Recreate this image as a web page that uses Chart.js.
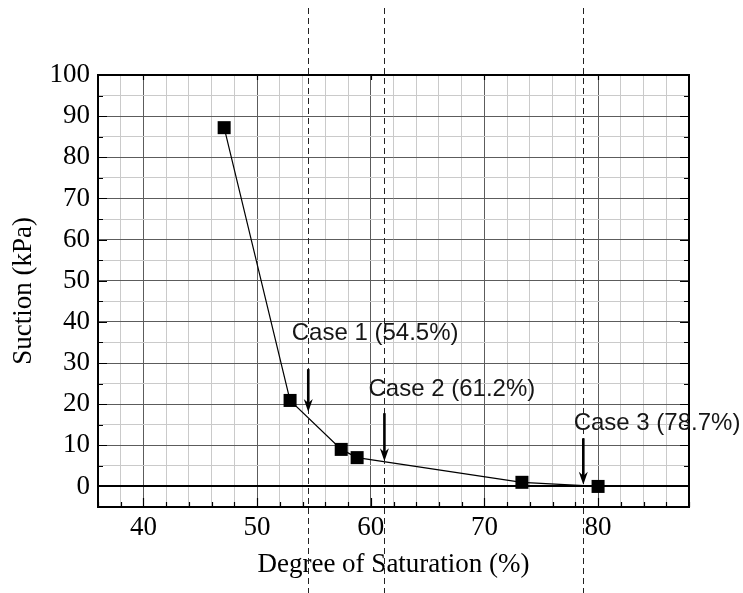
<!DOCTYPE html>
<html>
<head>
<meta charset="utf-8">
<script src="https://cdn.jsdelivr.net/npm/chart.js@4/dist/chart.umd.min.js"></script>
<style>
  html, body { margin: 0; padding: 0; background: #ffffff; }
  #wrap { width: 743px; height: 593px; }
</style>
</head>
<body>
<div id="wrap"><canvas id="c" width="743" height="593"></canvas></div>
<script>
// Soil-water characteristic points: degree of saturation (%) vs suction (kPa)
const saturation = [47.1, 52.9, 57.4, 58.8, 73.3, 80.0];
const suction    = [87.2, 20.9, 9.0, 7.0, 1.0, 0.0];

// Axis tick labels
const xTickLabels = [40, 50, 60, 70, 80];
const yTickLabels = [0, 10, 20, 30, 40, 50, 60, 70, 80, 90, 100];

// Test cases marked on the curve
const caseNames      = ['Case 1 (54.5%)', 'Case 2 (61.2%)', 'Case 3 (78.7%)'];
const caseSaturation = [54.5, 61.2, 78.7];

// Where each callout sits, in axis units
const calloutPlacement = [
  { textX: 53.05, textY: 35.7, arrowFrom: 28.5, arrowTo: 18.1 },
  { textX: 59.8,  textY: 22.1, arrowFrom: 17.8, arrowTo: 6.1 },
  { textX: 77.85, textY: 13.6, arrowFrom: 11.7, arrowTo: 0.4 }
];

const SERIF = '"Liberation Serif", "Times New Roman", serif';
const SANS = '"Liberation Sans", Arial, sans-serif';
const MAJOR_GRID = '#5c5c5c';
const MINOR_GRID = '#cacaca';

const points = saturation.map((x, i) => ({ x: x, y: suction[i] }));

// Frame with inward tick marks on all four sides
const framePlugin = {
  id: 'frame',
  beforeDatasetsDraw(chart) {
    const { ctx, chartArea: a, scales: { x, y } } = chart;
    ctx.save();
    ctx.strokeStyle = '#000';
    ctx.lineWidth = 1.2;
    x.ticks.forEach(t => {
      const px = Math.round(x.getPixelForValue(t.value)) + 0.5;
      const len = t.value % 10 === 0 ? 9 : 5;
      ctx.beginPath();
      ctx.moveTo(px, a.bottom); ctx.lineTo(px, a.bottom - len);
      if (t.value % 10 === 0) { ctx.moveTo(px, a.top); ctx.lineTo(px, a.top + 5); }
      ctx.stroke();
    });
    y.ticks.forEach(t => {
      const py = Math.round(y.getPixelForValue(t.value)) + 0.5;
      const len = t.value % 10 === 0 ? 9 : 5;
      ctx.beginPath();
      ctx.moveTo(a.left, py); ctx.lineTo(a.left + len, py);
      ctx.moveTo(a.right, py); ctx.lineTo(a.right - len, py);
      ctx.stroke();
    });
    ctx.lineWidth = 2;
    ctx.strokeRect(Math.round(a.left), Math.round(a.top), Math.round(a.right - a.left), Math.round(a.bottom - a.top));
    ctx.restore();
  },
  afterDraw(chart) {
    const { ctx, scales: { x, y } } = chart;
    ctx.save();
    // dashed guides at each case saturation
    ctx.strokeStyle = '#222';
    ctx.lineWidth = 1;
    ctx.setLineDash([6, 4]);
    caseSaturation.forEach(s => {
      const px = Math.round(x.getPixelForValue(s)) + 0.5;
      ctx.beginPath();
      ctx.moveTo(px, 8);
      ctx.lineTo(px, chart.height);
      ctx.stroke();
    });
    ctx.setLineDash([]);
    // arrows and labels
    caseSaturation.forEach((s, i) => {
      const p = calloutPlacement[i];
      const px = x.getPixelForValue(s);
      const y0 = y.getPixelForValue(p.arrowFrom);
      const y1 = y.getPixelForValue(p.arrowTo);
      ctx.strokeStyle = '#000';
      ctx.fillStyle = '#000';
      ctx.lineWidth = 2.6;
      ctx.beginPath();
      ctx.moveTo(px, y0);
      ctx.lineTo(px, y1 - 8);
      ctx.stroke();
      ctx.beginPath();
      ctx.moveTo(px, y1);
      ctx.lineTo(px - 4.5, y1 - 13);
      ctx.lineTo(px, y1 - 9);
      ctx.lineTo(px + 4.5, y1 - 13);
      ctx.closePath();
      ctx.fill();

      ctx.font = '24px ' + SANS;
      ctx.fillStyle = '#161616';
      ctx.textAlign = 'left';
      ctx.textBaseline = 'alphabetic';
      ctx.fillText(caseNames[i], x.getPixelForValue(p.textX), y.getPixelForValue(p.textY));
    });
    ctx.restore();
  }
};

new Chart(document.getElementById('c'), {
  type: 'scatter',
  data: {
    datasets: [{
      data: points,
      showLine: true,
      borderColor: '#000',
      borderWidth: 1.2,
      tension: 0,
      pointStyle: 'rect',
      pointRadius: 9.2,
      pointHoverRadius: 9.2,
      pointBackgroundColor: '#000',
      pointBorderColor: '#000',
      pointBorderWidth: 0
    }]
  },
  options: {
    responsive: false,
    animation: false,
    events: [],
    layout: { padding: { left: 0, right: 54, top: 75, bottom: 0 } },
    plugins: { legend: { display: false }, tooltip: { enabled: false } },
    scales: {
      x: {
        type: 'linear',
        min: 36, max: 88,
        afterFit(scale) { scale.height = 86; },
        border: { display: false },
        grid: {
          drawTicks: false,
          color: c => (c.tick && c.tick.value % 10 === 0 ? MAJOR_GRID : MINOR_GRID),
          lineWidth: 1
        },
        ticks: {
          stepSize: 2,
          autoSkip: false,
          maxRotation: 0,
          padding: 5,
          color: '#000',
          font: { family: SERIF, size: 27 },
          callback: v => (xTickLabels.includes(v) ? String(v) : '')
        },
        title: {
          display: true,
          text: 'Degree of Saturation (%)',
          color: '#000',
          font: { family: SERIF, size: 27 },
          padding: { top: 0, bottom: 12 }
        }
      },
      y: {
        type: 'linear',
        min: -5, max: 100,
        afterFit(scale) { scale.width = 98; },
        border: { display: false },
        grid: {
          drawTicks: false,
          color: c => {
            if (!c.tick) return MINOR_GRID;
            if (c.tick.value === 0) return '#000';
            return c.tick.value % 10 === 0 ? MAJOR_GRID : MINOR_GRID;
          },
          lineWidth: c => (c.tick && c.tick.value === 0 ? 2 : 1)
        },
        ticks: {
          stepSize: 5,
          autoSkip: false,
          padding: 8,
          color: '#000',
          font: { family: SERIF, size: 27 },
          callback: v => (yTickLabels.includes(v) ? String(v) : '')
        },
        title: {
          display: true,
          text: 'Suction (kPa)',
          color: '#000',
          font: { family: SERIF, size: 27 },
          padding: { top: 8, bottom: 0 }
        }
      }
    }
  },
  plugins: [framePlugin]
});
</script>
</body>
</html>
